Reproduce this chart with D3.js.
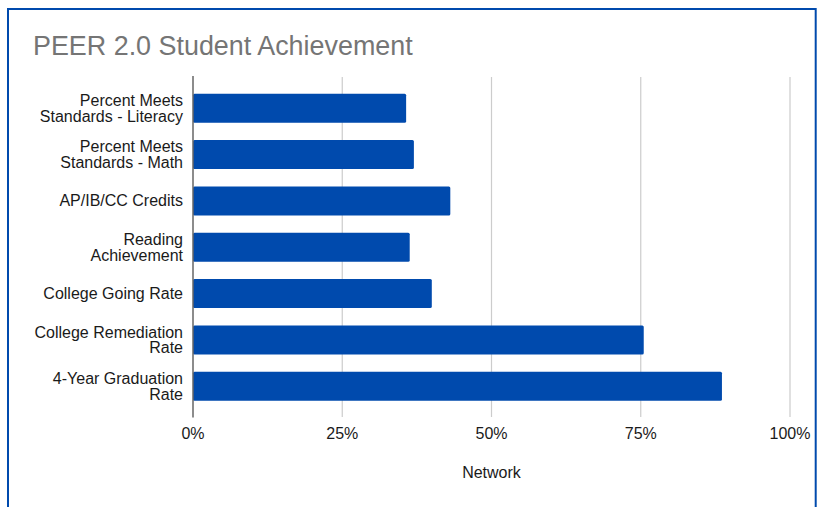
<!DOCTYPE html>
<html>
<head>
<meta charset="utf-8">
<script src="https://cdn.jsdelivr.net/npm/d3@7/dist/d3.min.js"></script>
<style>
  html, body { margin: 0; padding: 0; background: #fff; }
  svg { display: block; }
  text { font-family: "Liberation Sans", Arial, sans-serif; }
</style>
</head>
<body>
<svg id="chart" width="817" height="507"></svg>
<script>
const categories = [
  ["Percent Meets", "Standards - Literacy"],
  ["Percent Meets", "Standards - Math"],
  ["AP/IB/CC Credits"],
  ["Reading", "Achievement"],
  ["College Going Rate"],
  ["College Remediation", "Rate"],
  ["4-Year Graduation", "Rate"]
];
const values = [35.7, 37.0, 43.1, 36.3, 40.0, 75.5, 88.6];
const tickValues = [0, 25, 50, 75, 100];
const tickLabels = ["0%", "25%", "50%", "75%", "100%"];
const title = "PEER 2.0 Student Achievement";
const axisTitle = "Network";

const svg = d3.select("#chart");
const blue = "#004aad";

// frame
svg.append("rect")
  .attr("x", 8).attr("y", 9).attr("width", 807.7).attr("height", 520)
  .attr("fill", "#fff").attr("stroke", blue).attr("stroke-width", 2);

svg.append("text")
  .attr("x", 33).attr("y", 55)
  .attr("font-size", 26.9).attr("fill", "#757575")
  .text(title);

const x = d3.scaleLinear().domain([0, 100]).range([193, 790]);
const idx = categories.map((d, i) => i);
const y = d3.scaleBand().domain(idx).range([85, 409.5]).paddingInner(0.374).paddingOuter(0.187);

// gridlines
svg.append("g").selectAll("line").data(tickValues.slice(1)).join("line")
  .attr("x1", d => x(d)).attr("x2", d => x(d))
  .attr("y1", 77).attr("y2", 417)
  .attr("stroke", "#cccccc").attr("stroke-width", 1.2);

// bars
svg.append("g").selectAll("rect").data(values).join("rect")
  .attr("x", x(0))
  .attr("y", (d, i) => y(i))
  .attr("width", d => x(d) - x(0))
  .attr("height", y.bandwidth())
  .attr("rx", 1.5)
  .attr("fill", blue);

// baseline axis
svg.append("line")
  .attr("x1", x(0)).attr("x2", x(0)).attr("y1", 76).attr("y2", 417.5)
  .attr("stroke", "#666").attr("stroke-width", 1.5);

// category labels
const lab = svg.append("g").selectAll("text").data(categories).join("text")
  .attr("text-anchor", "end").attr("font-size", 16).attr("fill", "#1a1a1a");
lab.each(function(lines, i) {
  const cy = y(i) + y.bandwidth() / 2 + 5.5;
  const n = lines.length;
  d3.select(this).selectAll("tspan").data(lines).join("tspan")
    .attr("x", 183)
    .attr("y", (l, j) => cy + (j - (n - 1) / 2) * 15.7)
    .text(l => l);
});

// x tick labels
svg.append("g").selectAll("text").data(tickValues).join("text")
  .attr("x", d => x(d)).attr("y", 438.5)
  .attr("text-anchor", "middle").attr("font-size", 16).attr("fill", "#1a1a1a")
  .text((d, i) => tickLabels[i]);

svg.append("text")
  .attr("x", x(50)).attr("y", 478)
  .attr("text-anchor", "middle").attr("font-size", 16).attr("fill", "#1a1a1a")
  .text(axisTitle);
</script>
</body>
</html>
